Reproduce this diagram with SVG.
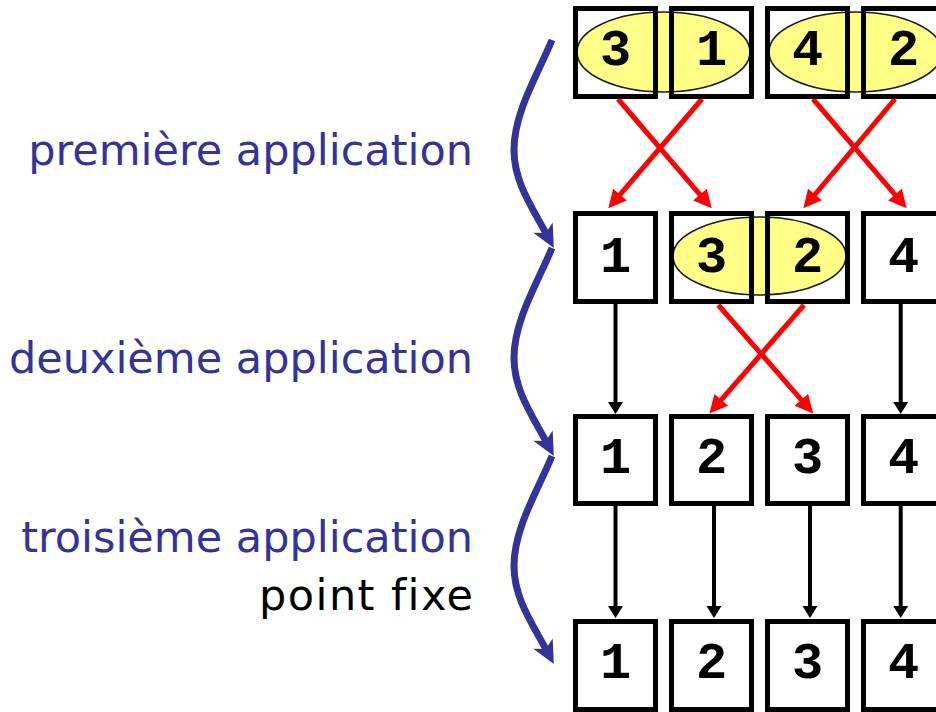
<svg xmlns="http://www.w3.org/2000/svg" width="936" height="712" viewBox="0 0 936 712">
  <style>
    .box { fill: none; stroke: #000; stroke-width: 5; }
    .pair { fill: #ffff88; stroke: #1a1a1a; stroke-width: 1.6; }
    .num { font-family: "Liberation Mono", "Courier New", monospace; font-weight: bold; font-size: 52px; fill: #000; text-anchor: middle; }
    .lbl { font-family: "DejaVu Sans", Verdana, sans-serif; font-size: 43px; text-anchor: end; font-variant-ligatures: none; }
    .blue { fill: #333399; }
    .swap { stroke: #ff0000; stroke-width: 5; fill: none; marker-end: url(#headRed); }
    .keep { stroke: #000; stroke-width: 4; fill: none; marker-end: url(#headBlack); }
    .step { stroke: #333399; stroke-width: 7; fill: none; marker-end: url(#headBlue); }
  </style>
  <defs>
    <marker id="headRed" markerUnits="userSpaceOnUse" markerWidth="18" markerHeight="18" refX="1" refY="9" orient="auto" overflow="visible">
      <path d="M0,0 L18,9 L0,18 Z" fill="#ff0000"/>
    </marker>
    <marker id="headBlack" markerUnits="userSpaceOnUse" markerWidth="12" markerHeight="15" refX="1" refY="7.5" orient="auto" overflow="visible">
      <path d="M0,0 L12,7.5 L0,15 Z" fill="#000"/>
    </marker>
    <marker id="headBlue" markerUnits="userSpaceOnUse" markerWidth="23" markerHeight="22" refX="6" refY="11" orient="auto" overflow="visible">
      <path d="M0,0 L23,11 L0,22 L6,11 Z" fill="#333399"/>
    </marker>
    <path id="stepCurve" class="step" d="M552,40 C538,74 514,112 514,150 C514,182 532,207 545.8,233"/>
  </defs>

  <rect width="936" height="712" fill="#fff"/>

  <!-- step labels -->
  <g id="labels">
    <text class="lbl blue" x="473" y="165">première application</text>
    <text class="lbl blue" x="473" y="373">deuxième application</text>
    <text class="lbl blue" x="473" y="552">troisième application</text>
    <text class="lbl" x="473" y="610" fill="#000" textLength="214" lengthAdjust="spacing">point fixe</text>
  </g>

  <!-- connectors -->
  <g id="connectors">
    <use href="#stepCurve"/>
    <use href="#stepCurve" transform="translate(0,208)"/>
    <use href="#stepCurve" transform="translate(0,416)"/>

    <line class="swap" x1="618" y1="99" x2="700.6" y2="195.4"/>
    <line class="swap" x1="702" y1="99" x2="619.4" y2="195.4"/>
    <line class="swap" x1="813" y1="99" x2="895.6" y2="195.4"/>
    <line class="swap" x1="895" y1="99" x2="814.3" y2="195.3"/>

    <line class="swap" x1="718.3" y1="305" x2="802" y2="400.6"/>
    <line class="swap" x1="804" y1="305" x2="720.6" y2="400.6"/>

    <line class="keep" x1="615.5" y1="302" x2="615.5" y2="403"/>
    <line class="keep" x1="900.7" y1="302" x2="900.7" y2="403"/>

    <line class="keep" x1="615.5" y1="504" x2="615.5" y2="607"/>
    <line class="keep" x1="714" y1="504" x2="714" y2="607"/>
    <line class="keep" x1="810" y1="504" x2="810" y2="607"/>
    <line class="keep" x1="900.7" y1="504" x2="900.7" y2="607"/>
  </g>

  <!-- highlighted pairs -->
  <g id="pair-r1-a"><ellipse class="pair" cx="663.5" cy="52" rx="86.5" ry="40"/></g>
  <g id="pair-r1-b"><ellipse class="pair" cx="855.5" cy="52" rx="86.5" ry="40"/></g>
  <g id="pair-r2"><ellipse class="pair" cx="759.5" cy="256" rx="86.5" ry="39"/></g>

  <!-- row 1 -->
  <g id="r1c1"><rect class="box" x="575.5" y="8.5" width="80" height="88"/><text class="num" x="615.5" y="64.5">3</text></g>
  <g id="r1c2"><rect class="box" x="671.5" y="8.5" width="80" height="88"/><text class="num" x="711.5" y="64.5">1</text></g>
  <g id="r1c3"><rect class="box" x="767.5" y="8.5" width="80" height="88"/><text class="num" x="807.5" y="64.5">4</text></g>
  <g id="r1c4"><rect class="box" x="863.5" y="8.5" width="80" height="88"/><text class="num" x="903.5" y="64.5">2</text></g>

  <!-- row 2 -->
  <g id="r2c1"><rect class="box" x="575.5" y="213.5" width="80" height="88"/><text class="num" x="615.5" y="271.5">1</text></g>
  <g id="r2c2"><rect class="box" x="671.5" y="213.5" width="80" height="88"/><text class="num" x="711.5" y="271.5">3</text></g>
  <g id="r2c3"><rect class="box" x="767.5" y="213.5" width="80" height="88"/><text class="num" x="807.5" y="271.5">2</text></g>
  <g id="r2c4"><rect class="box" x="863.5" y="213.5" width="80" height="88"/><text class="num" x="903.5" y="271.5">4</text></g>

  <!-- row 3 -->
  <g id="r3c1"><rect class="box" x="575.5" y="416.5" width="80" height="87"/><text class="num" x="615.5" y="473">1</text></g>
  <g id="r3c2"><rect class="box" x="671.5" y="416.5" width="80" height="87"/><text class="num" x="711.5" y="473">2</text></g>
  <g id="r3c3"><rect class="box" x="767.5" y="416.5" width="80" height="87"/><text class="num" x="807.5" y="473">3</text></g>
  <g id="r3c4"><rect class="box" x="863.5" y="416.5" width="80" height="87"/><text class="num" x="903.5" y="473">4</text></g>

  <!-- row 4 -->
  <g id="r4c1"><rect class="box" x="575.5" y="621.5" width="80" height="88"/><text class="num" x="615.5" y="678">1</text></g>
  <g id="r4c2"><rect class="box" x="671.5" y="621.5" width="80" height="88"/><text class="num" x="711.5" y="678">2</text></g>
  <g id="r4c3"><rect class="box" x="767.5" y="621.5" width="80" height="88"/><text class="num" x="807.5" y="678">3</text></g>
  <g id="r4c4"><rect class="box" x="863.5" y="621.5" width="80" height="88"/><text class="num" x="903.5" y="678">4</text></g>
</svg>
